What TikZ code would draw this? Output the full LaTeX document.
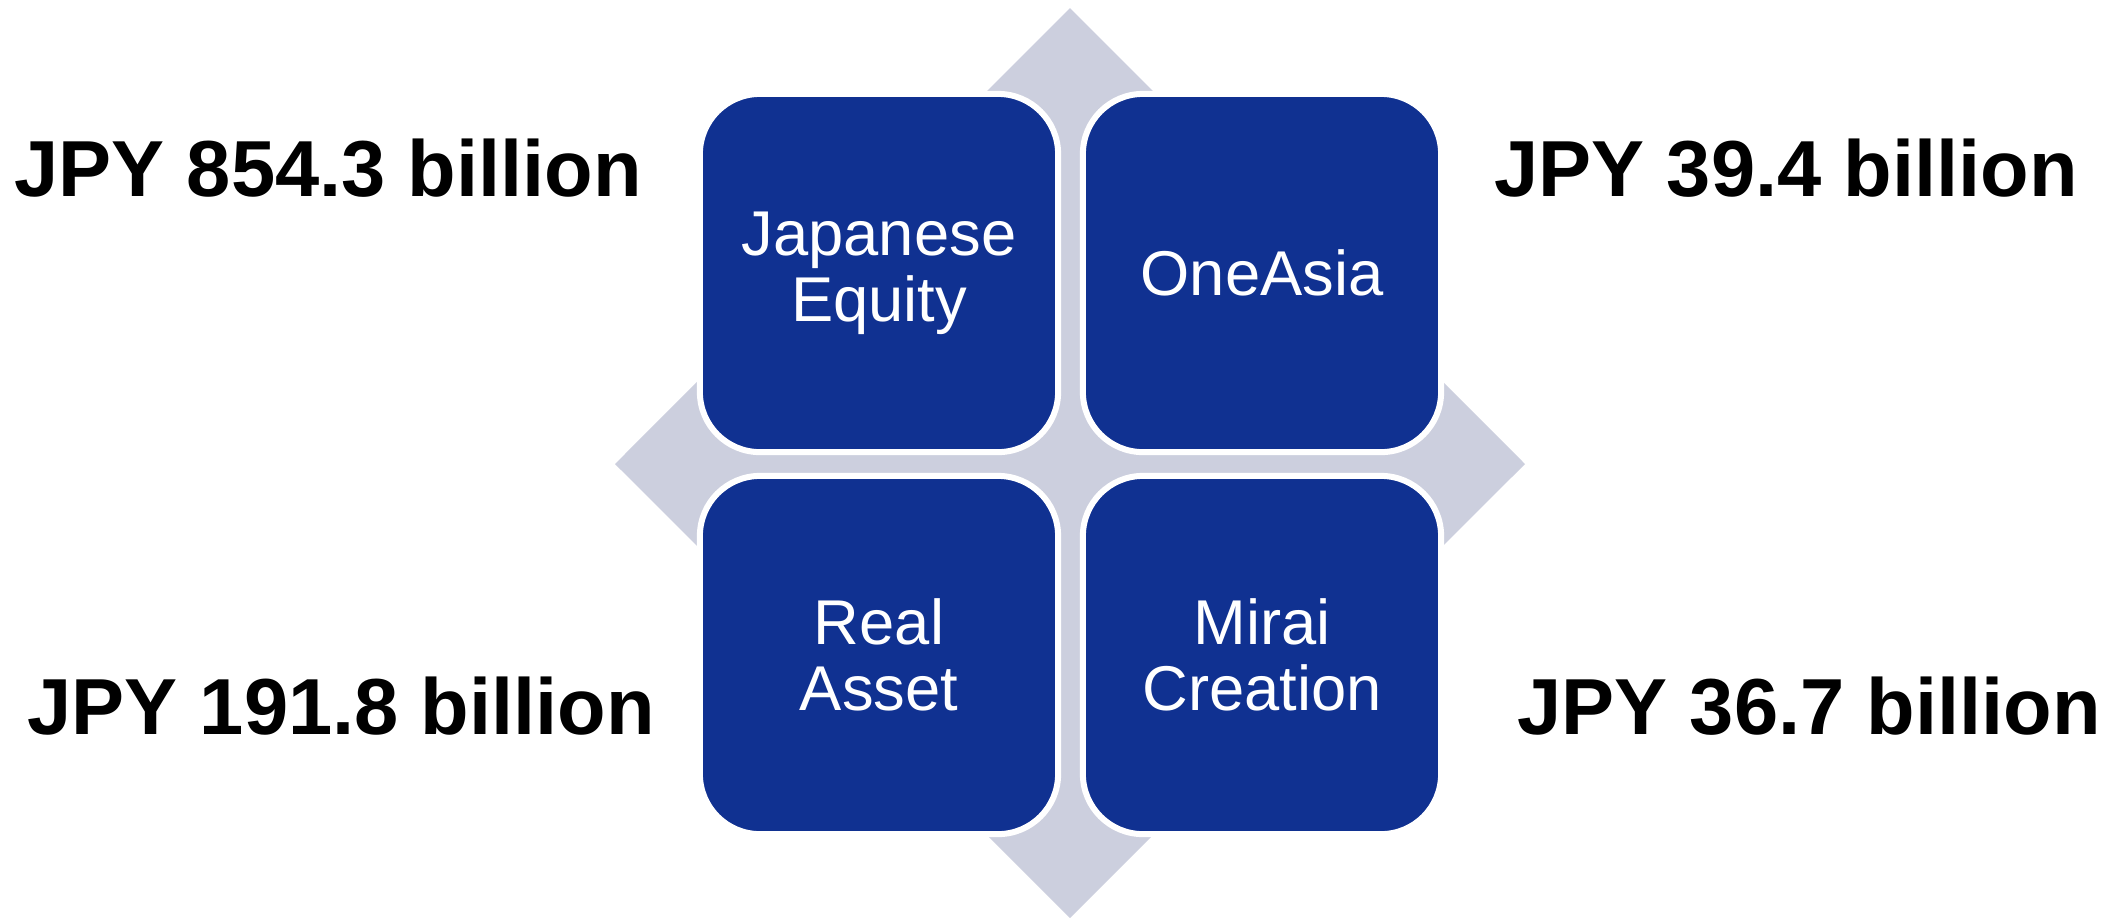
\documentclass[tikz,border=0pt]{standalone}
\usepackage{fontspec}
\setmainfont{Liberation Sans}
\definecolor{boxblue}{RGB}{16,49,145}
\definecolor{diamfill}{RGB}{204,207,222}
\begin{document}
\begin{tikzpicture}[x=0.01cm,y=-0.01cm,
  seg/.style={draw=white, line width=0.06cm, fill=boxblue, rounded corners=0.6cm,
    minimum width=3.58cm, minimum height=3.58cm, inner sep=0pt, text=white,
    align=center, font=\fontsize{18}{18.8}\selectfont},
  amount/.style={font=\fontsize{22.6}{26}\selectfont\bfseries, inner sep=0pt, text=black}]
\useasboundingbox (0,0) rectangle (2120,917);
\coordinate (dt) at (1070,8);
\coordinate (dr) at (1525,464);
\coordinate (db) at (1070,918);
\coordinate (dl) at (615,464);
\fill[diamfill] (dt) -- (dr) -- (db) -- (dl) -- cycle;
\node[seg] (je) at (879,273) {Japanese\\Equity};
\node[seg] (oa) at (1262,273) {OneAsia};
\node[seg] (ra) at (879,655) {Real\\Asset};
\node[seg] (mc) at (1262,655) {Mirai\\Creation};
\node[amount, anchor=base west] (l1) at (14,196) {JPY 854.3 billion};
\node[amount, anchor=base west] (l2) at (1494,196) {JPY 39.4 billion};
\node[amount, anchor=base west] (l3) at (27,734) {JPY 191.8 billion};
\node[amount, anchor=base west] (l4) at (1517,734) {JPY 36.7 billion};
\end{tikzpicture}
\end{document}
